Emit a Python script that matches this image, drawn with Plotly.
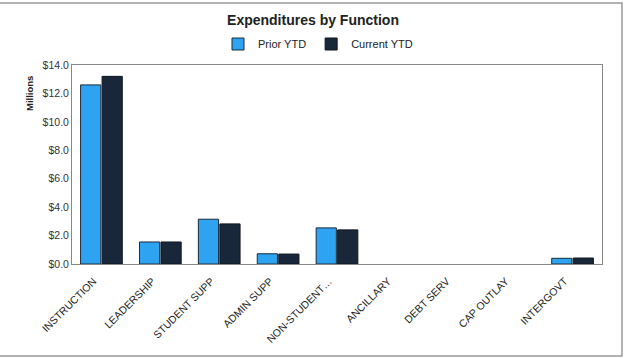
import plotly.graph_objects as go

# Expenditures by function, in millions of dollars
categories = ["INSTRUCTION", "LEADERSHIP", "STUDENT SUPP", "ADMIN SUPP",
              "NON-STUDENT\u2026", "ANCILLARY", "DEBT SERV", "CAP OUTLAY", "INTERGOVT"]
prior_ytd = [12.6, 1.55, 3.15, 0.72, 2.54, 0.0, 0.0, 0.0, 0.40]
current_ytd = [13.2, 1.55, 2.82, 0.70, 2.40, 0.0, 0.0, 0.0, 0.42]
tick_vals = [0, 2, 4, 6, 8, 10, 12, 14]
tick_text = ["$0.0", "$2.0", "$4.0", "$6.0", "$8.0", "$10.0", "$12.0", "$14.0"]

W, H = 626, 358
L, R, T, B = 72, 24, 65, 94
pw, ph = W - L - R, H - T - B

def px(x):
    return (x - L) / pw

def py(y):
    return (H - B - y) / ph

def outline_widths(vals):
    # empty categories get no outline so nothing is drawn for them
    return [1 if v > 0 else 0 for v in vals]

fig = go.Figure()
fig.add_trace(go.Bar(
    name="Prior YTD", x=categories, y=prior_ytd,
    marker=dict(color="#2EA3F2",
                line=dict(color="#1c2a38", width=outline_widths(prior_ytd))),
))
fig.add_trace(go.Bar(
    name="Current YTD", x=categories, y=current_ytd,
    marker=dict(color="#18283A",
                line=dict(color="#10161e", width=outline_widths(current_ytd))),
))

fig.update_layout(
    width=W, height=H,
    margin=dict(l=L, r=R, t=T, b=B),
    paper_bgcolor="white", plot_bgcolor="white",
    font=dict(family="Liberation Sans, Arial", size=10, color="#333333"),
    barmode="group", bargap=0.27, bargroupgap=0.06,
    title=dict(text="<b>Expenditures by Function</b>", x=0.5, xanchor="center",
               y=1 - 20 / H, yanchor="middle",
               font=dict(size=14, color="#222222")),
    legend=dict(orientation="h", x=px(318), xanchor="center", y=py(44), yanchor="middle",
                font=dict(size=11, color="#222222"), itemwidth=30,
                traceorder="normal", bgcolor="rgba(0,0,0,0)"),
    showlegend=True,
    xaxis=dict(tickangle=-45, showline=True, linecolor="#888888", linewidth=1,
               mirror=True, ticks="", tickfont=dict(size=10.5, color="#222222"),
               ticklabelshift=-8, ticklabelstandoff=6),
    yaxis=dict(range=[0, 14], tickvals=tick_vals, ticktext=tick_text,
               showgrid=False, zeroline=False, showline=True, linecolor="#888888",
               linewidth=1, mirror=True, ticks="",
               tickfont=dict(size=10.5, color="#333333")),
)

fig.add_annotation(text="<b>Millions</b>", textangle=-90, x=px(22), y=py(74),
                   xref="paper", yref="paper", showarrow=False,
                   font=dict(size=9.5, color="#222222"))

# outer chart frame
fig.add_shape(type="rect", xref="paper", yref="paper",
              x0=px(-2), x1=px(622), y0=py(356), y1=py(3),
              line=dict(color="#999999", width=1.5), layer="below")

fig.write_html("out.html")
